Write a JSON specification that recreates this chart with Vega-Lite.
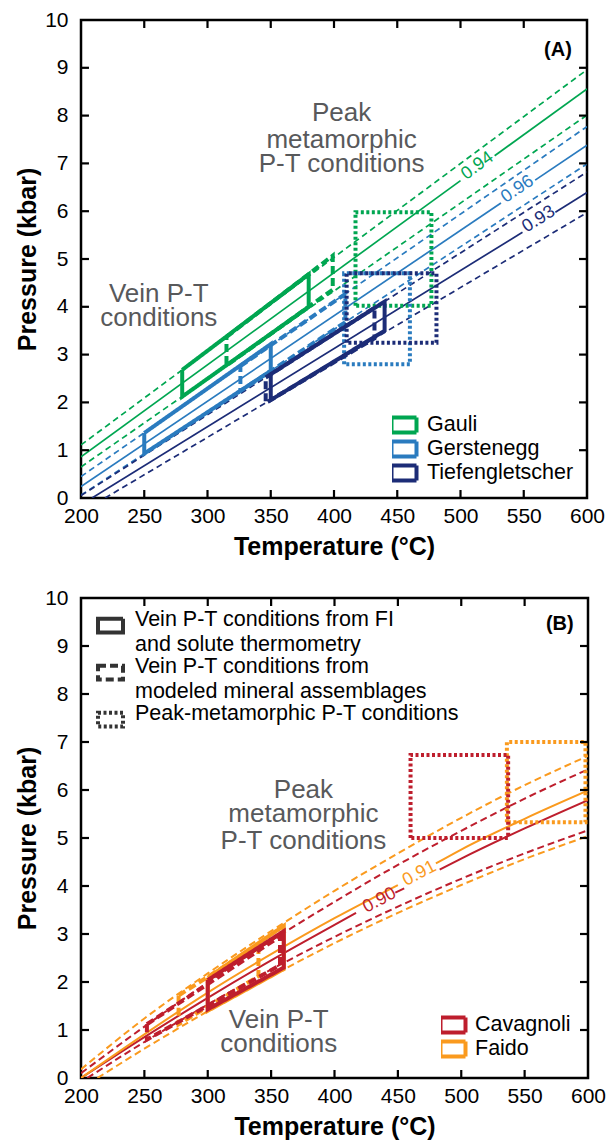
{
 "$schema": "https://vega.github.io/schema/vega-lite/v6.json",
 "padding": {"left": 14, "top": 7, "right": 5, "bottom": 5},
 "spacing": 24,
 "config": {
  "font": "Liberation Sans",
  "view": {"stroke": "#000", "strokeWidth": 2.5},
  "axis": {"domainColor": "#000", "domainWidth": 2.5, "tickColor": "#000", "tickWidth": 2, "tickSize": 8, "labelFontSize": 21, "labelColor": "#000", "titleFontSize": 25, "titleFontWeight": "bold", "titleColor": "#000", "grid": false, "labelFlush": false, "labelOverlap": false},
  "legend": {"labelFontSize": 21.5, "labelColor": "#000", "labelLimit": 500, "symbolStrokeWidth": 4, "title": null},
  "style": {"guide-label": {"lineHeight": 25}}
 },
 "datasets": {
  "frameTicks": [
   {"id": "b250", "T": 250, "P": 0}, {"id": "b250", "T": 250, "P": 0.167},
   {"id": "b300", "T": 300, "P": 0}, {"id": "b300", "T": 300, "P": 0.167},
   {"id": "b350", "T": 350, "P": 0}, {"id": "b350", "T": 350, "P": 0.167},
   {"id": "b400", "T": 400, "P": 0}, {"id": "b400", "T": 400, "P": 0.167},
   {"id": "b450", "T": 450, "P": 0}, {"id": "b450", "T": 450, "P": 0.167},
   {"id": "b500", "T": 500, "P": 0}, {"id": "b500", "T": 500, "P": 0.167},
   {"id": "b550", "T": 550, "P": 0}, {"id": "b550", "T": 550, "P": 0.167},
   {"id": "t250", "T": 250, "P": 10}, {"id": "t250", "T": 250, "P": 9.833},
   {"id": "t300", "T": 300, "P": 10}, {"id": "t300", "T": 300, "P": 9.833},
   {"id": "t350", "T": 350, "P": 10}, {"id": "t350", "T": 350, "P": 9.833},
   {"id": "t400", "T": 400, "P": 10}, {"id": "t400", "T": 400, "P": 9.833},
   {"id": "t450", "T": 450, "P": 10}, {"id": "t450", "T": 450, "P": 9.833},
   {"id": "t500", "T": 500, "P": 10}, {"id": "t500", "T": 500, "P": 9.833},
   {"id": "t550", "T": 550, "P": 10}, {"id": "t550", "T": 550, "P": 9.833},
   {"id": "l1", "T": 200, "P": 1}, {"id": "l1", "T": 206.3, "P": 1},
   {"id": "l2", "T": 200, "P": 2}, {"id": "l2", "T": 206.3, "P": 2},
   {"id": "l3", "T": 200, "P": 3}, {"id": "l3", "T": 206.3, "P": 3},
   {"id": "l4", "T": 200, "P": 4}, {"id": "l4", "T": 206.3, "P": 4},
   {"id": "l5", "T": 200, "P": 5}, {"id": "l5", "T": 206.3, "P": 5},
   {"id": "l6", "T": 200, "P": 6}, {"id": "l6", "T": 206.3, "P": 6},
   {"id": "l7", "T": 200, "P": 7}, {"id": "l7", "T": 206.3, "P": 7},
   {"id": "l8", "T": 200, "P": 8}, {"id": "l8", "T": 206.3, "P": 8},
   {"id": "l9", "T": 200, "P": 9}, {"id": "l9", "T": 206.3, "P": 9},
   {"id": "r1", "T": 593.7, "P": 1}, {"id": "r1", "T": 600, "P": 1},
   {"id": "r2", "T": 593.7, "P": 2}, {"id": "r2", "T": 600, "P": 2},
   {"id": "r3", "T": 593.7, "P": 3}, {"id": "r3", "T": 600, "P": 3},
   {"id": "r4", "T": 593.7, "P": 4}, {"id": "r4", "T": 600, "P": 4},
   {"id": "r5", "T": 593.7, "P": 5}, {"id": "r5", "T": 600, "P": 5},
   {"id": "r6", "T": 593.7, "P": 6}, {"id": "r6", "T": 600, "P": 6},
   {"id": "r7", "T": 593.7, "P": 7}, {"id": "r7", "T": 600, "P": 7},
   {"id": "r8", "T": 593.7, "P": 8}, {"id": "r8", "T": 600, "P": 8},
   {"id": "r9", "T": 593.7, "P": 9}, {"id": "r9", "T": 600, "P": 9}
  ],
  "isoA": [
   {"site": "Gauli", "kind": "best", "line": "Ga-best-a", "T": 200, "P": 0.86},
   {"site": "Gauli", "kind": "best", "line": "Ga-best-a", "T": 500, "P": 6.64},
   {"site": "Gauli", "kind": "best", "line": "Ga-best-b", "T": 527, "P": 7.16},
   {"site": "Gauli", "kind": "best", "line": "Ga-best-b", "T": 600, "P": 8.56},
   {"site": "Gauli", "kind": "bound", "line": "Ga-up", "T": 200, "P": 1.11},
   {"site": "Gauli", "kind": "bound", "line": "Ga-up", "T": 600, "P": 8.96},
   {"site": "Gauli", "kind": "bound", "line": "Ga-lo", "T": 200, "P": 0.65},
   {"site": "Gauli", "kind": "bound", "line": "Ga-lo", "T": 600, "P": 8.01},
   {"site": "Gerstenegg", "kind": "best", "line": "Ge-best-a", "T": 200, "P": 0.24},
   {"site": "Gerstenegg", "kind": "best", "line": "Ge-best-a", "T": 532, "P": 6.17},
   {"site": "Gerstenegg", "kind": "best", "line": "Ge-best-b", "T": 559, "P": 6.65},
   {"site": "Gerstenegg", "kind": "best", "line": "Ge-best-b", "T": 600, "P": 7.38},
   {"site": "Gerstenegg", "kind": "bound", "line": "Ge-up", "T": 200, "P": 0.45},
   {"site": "Gerstenegg", "kind": "bound", "line": "Ge-up", "T": 600, "P": 7.77},
   {"site": "Gerstenegg", "kind": "bound", "line": "Ge-lo", "T": 200, "P": 0.06},
   {"site": "Gerstenegg", "kind": "bound", "line": "Ge-lo", "T": 600, "P": 6.99},
   {"site": "Tiefengletscher", "kind": "best", "line": "Ti-best-a", "T": 208.7, "P": 0},
   {"site": "Tiefengletscher", "kind": "best", "line": "Ti-best-a", "T": 549, "P": 5.56},
   {"site": "Tiefengletscher", "kind": "best", "line": "Ti-best-b", "T": 575, "P": 5.98},
   {"site": "Tiefengletscher", "kind": "best", "line": "Ti-best-b", "T": 600, "P": 6.39},
   {"site": "Tiefengletscher", "kind": "bound", "line": "Ti-up", "T": 200, "P": 0.05},
   {"site": "Tiefengletscher", "kind": "bound", "line": "Ti-up", "T": 600, "P": 6.82},
   {"site": "Tiefengletscher", "kind": "bound", "line": "Ti-lo", "T": 219, "P": 0},
   {"site": "Tiefengletscher", "kind": "bound", "line": "Ti-lo", "T": 600, "P": 5.97}
  ],
  "boxA": [
   {"site": "Gauli", "type": "FI", "box": "Ga-FI", "i": 0, "T": 280, "P": 2.68},
   {"site": "Gauli", "type": "FI", "box": "Ga-FI", "i": 1, "T": 380, "P": 4.68},
   {"site": "Gauli", "type": "FI", "box": "Ga-FI", "i": 2, "T": 380, "P": 4.0},
   {"site": "Gauli", "type": "FI", "box": "Ga-FI", "i": 3, "T": 280, "P": 2.12},
   {"site": "Gauli", "type": "FI", "box": "Ga-FI", "i": 4, "T": 280, "P": 2.68},
   {"site": "Gauli", "type": "model", "box": "Ga-mod", "i": 0, "T": 315, "P": 3.37},
   {"site": "Gauli", "type": "model", "box": "Ga-mod", "i": 1, "T": 399, "P": 5.07},
   {"site": "Gauli", "type": "model", "box": "Ga-mod", "i": 2, "T": 399, "P": 4.36},
   {"site": "Gauli", "type": "model", "box": "Ga-mod", "i": 3, "T": 315, "P": 2.77},
   {"site": "Gauli", "type": "model", "box": "Ga-mod", "i": 4, "T": 315, "P": 3.37},
   {"site": "Gauli", "type": "peak", "box": "Ga-pk", "i": 0, "T": 417, "P": 4.02},
   {"site": "Gauli", "type": "peak", "box": "Ga-pk", "i": 1, "T": 417, "P": 5.98},
   {"site": "Gauli", "type": "peak", "box": "Ga-pk", "i": 2, "T": 477, "P": 5.98},
   {"site": "Gauli", "type": "peak", "box": "Ga-pk", "i": 3, "T": 477, "P": 4.02},
   {"site": "Gauli", "type": "peak", "box": "Ga-pk", "i": 4, "T": 417, "P": 4.02},
   {"site": "Gerstenegg", "type": "FI", "box": "Ge-FI", "i": 0, "T": 250, "P": 1.36},
   {"site": "Gerstenegg", "type": "FI", "box": "Ge-FI", "i": 1, "T": 350, "P": 3.22},
   {"site": "Gerstenegg", "type": "FI", "box": "Ge-FI", "i": 2, "T": 350, "P": 2.66},
   {"site": "Gerstenegg", "type": "FI", "box": "Ge-FI", "i": 3, "T": 250, "P": 0.93},
   {"site": "Gerstenegg", "type": "FI", "box": "Ge-FI", "i": 4, "T": 250, "P": 1.36},
   {"site": "Gerstenegg", "type": "model", "box": "Ge-mod", "i": 0, "T": 326, "P": 2.76},
   {"site": "Gerstenegg", "type": "model", "box": "Ge-mod", "i": 1, "T": 409, "P": 4.27},
   {"site": "Gerstenegg", "type": "model", "box": "Ge-mod", "i": 2, "T": 409, "P": 3.68},
   {"site": "Gerstenegg", "type": "model", "box": "Ge-mod", "i": 3, "T": 326, "P": 2.24},
   {"site": "Gerstenegg", "type": "model", "box": "Ge-mod", "i": 4, "T": 326, "P": 2.76},
   {"site": "Gerstenegg", "type": "peak", "box": "Ge-pk", "i": 0, "T": 408, "P": 2.8},
   {"site": "Gerstenegg", "type": "peak", "box": "Ge-pk", "i": 1, "T": 408, "P": 4.7},
   {"site": "Gerstenegg", "type": "peak", "box": "Ge-pk", "i": 2, "T": 460, "P": 4.7},
   {"site": "Gerstenegg", "type": "peak", "box": "Ge-pk", "i": 3, "T": 460, "P": 2.8},
   {"site": "Gerstenegg", "type": "peak", "box": "Ge-pk", "i": 4, "T": 408, "P": 2.8},
   {"site": "Tiefengletscher", "type": "FI", "box": "Ti-FI", "i": 0, "T": 350, "P": 2.59},
   {"site": "Tiefengletscher", "type": "FI", "box": "Ti-FI", "i": 1, "T": 440, "P": 4.11},
   {"site": "Tiefengletscher", "type": "FI", "box": "Ti-FI", "i": 2, "T": 440, "P": 3.5},
   {"site": "Tiefengletscher", "type": "FI", "box": "Ti-FI", "i": 3, "T": 350, "P": 2.05},
   {"site": "Tiefengletscher", "type": "FI", "box": "Ti-FI", "i": 4, "T": 350, "P": 2.59},
   {"site": "Tiefengletscher", "type": "model", "box": "Ti-mod", "i": 0, "T": 346, "P": 2.52},
   {"site": "Tiefengletscher", "type": "model", "box": "Ti-mod", "i": 1, "T": 432, "P": 3.98},
   {"site": "Tiefengletscher", "type": "model", "box": "Ti-mod", "i": 2, "T": 432, "P": 3.34},
   {"site": "Tiefengletscher", "type": "model", "box": "Ti-mod", "i": 3, "T": 346, "P": 1.99},
   {"site": "Tiefengletscher", "type": "model", "box": "Ti-mod", "i": 4, "T": 346, "P": 2.52},
   {"site": "Tiefengletscher", "type": "peak", "box": "Ti-pk", "i": 0, "T": 410, "P": 3.25},
   {"site": "Tiefengletscher", "type": "peak", "box": "Ti-pk", "i": 1, "T": 410, "P": 4.7},
   {"site": "Tiefengletscher", "type": "peak", "box": "Ti-pk", "i": 2, "T": 481, "P": 4.7},
   {"site": "Tiefengletscher", "type": "peak", "box": "Ti-pk", "i": 3, "T": 481, "P": 3.25},
   {"site": "Tiefengletscher", "type": "peak", "box": "Ti-pk", "i": 4, "T": 410, "P": 3.25}
  ],
  "txtA": [
   {"text": "Peak", "T": 406, "P": 8.06},
   {"text": "metamorphic", "T": 406, "P": 7.5},
   {"text": "P-T conditions", "T": 406, "P": 6.98},
   {"text": "Vein P-T", "T": 261.5, "P": 4.26},
   {"text": "conditions", "T": 261.5, "P": 3.77},
   {"text": "0.94", "T": 513.4, "P": 6.95},
   {"text": "0.96", "T": 545, "P": 6.46},
   {"text": "0.93", "T": 561.8, "P": 5.83},
   {"text": "(A)", "T": 588, "P": 9.37}
  ],
  "isoB": [
   {"site": "Cavagnoli", "kind": "best", "line": "Ca-best-a", "T": 200, "P": 0},
   {"site": "Cavagnoli", "kind": "best", "line": "Ca-best-a", "T": 250, "P": 0.85},
   {"site": "Cavagnoli", "kind": "best", "line": "Ca-best-a", "T": 300, "P": 1.67},
   {"site": "Cavagnoli", "kind": "best", "line": "Ca-best-a", "T": 350, "P": 2.45},
   {"site": "Cavagnoli", "kind": "best", "line": "Ca-best-a", "T": 400, "P": 3.19},
   {"site": "Cavagnoli", "kind": "best", "line": "Ca-best-a", "T": 417, "P": 3.44},
   {"site": "Cavagnoli", "kind": "best", "line": "Ca-best-c", "T": 448, "P": 3.86},
   {"site": "Cavagnoli", "kind": "best", "line": "Ca-best-c", "T": 455, "P": 3.95},
   {"site": "Cavagnoli", "kind": "best", "line": "Ca-best-b", "T": 483, "P": 4.34},
   {"site": "Cavagnoli", "kind": "best", "line": "Ca-best-b", "T": 500, "P": 4.57},
   {"site": "Cavagnoli", "kind": "best", "line": "Ca-best-b", "T": 550, "P": 5.2},
   {"site": "Cavagnoli", "kind": "best", "line": "Ca-best-b", "T": 600, "P": 5.79},
   {"site": "Faido", "kind": "best", "line": "Fa-best-a", "T": 200, "P": 0},
   {"site": "Faido", "kind": "best", "line": "Fa-best-a", "T": 250, "P": 0.91},
   {"site": "Faido", "kind": "best", "line": "Fa-best-a", "T": 300, "P": 1.78},
   {"site": "Faido", "kind": "best", "line": "Fa-best-a", "T": 350, "P": 2.58},
   {"site": "Faido", "kind": "best", "line": "Fa-best-a", "T": 400, "P": 3.33},
   {"site": "Faido", "kind": "best", "line": "Fa-best-a", "T": 450, "P": 4.02},
   {"site": "Faido", "kind": "best", "line": "Fa-best-b", "T": 480, "P": 4.47},
   {"site": "Faido", "kind": "best", "line": "Fa-best-b", "T": 500, "P": 4.76},
   {"site": "Faido", "kind": "best", "line": "Fa-best-b", "T": 550, "P": 5.4},
   {"site": "Faido", "kind": "best", "line": "Fa-best-b", "T": 600, "P": 5.99},
   {"site": "Cavagnoli", "kind": "bound", "line": "Ca-up", "T": 200, "P": 0.1},
   {"site": "Cavagnoli", "kind": "bound", "line": "Ca-up", "T": 250, "P": 1.07},
   {"site": "Cavagnoli", "kind": "bound", "line": "Ca-up", "T": 300, "P": 1.99},
   {"site": "Cavagnoli", "kind": "bound", "line": "Ca-up", "T": 350, "P": 2.86},
   {"site": "Cavagnoli", "kind": "bound", "line": "Ca-up", "T": 400, "P": 3.67},
   {"site": "Cavagnoli", "kind": "bound", "line": "Ca-up", "T": 450, "P": 4.44},
   {"site": "Cavagnoli", "kind": "bound", "line": "Ca-up", "T": 500, "P": 5.15},
   {"site": "Cavagnoli", "kind": "bound", "line": "Ca-up", "T": 550, "P": 5.82},
   {"site": "Cavagnoli", "kind": "bound", "line": "Ca-up", "T": 600, "P": 6.43},
   {"site": "Cavagnoli", "kind": "bound", "line": "Ca-lo", "T": 205, "P": 0},
   {"site": "Cavagnoli", "kind": "bound", "line": "Ca-lo", "T": 250, "P": 0.75},
   {"site": "Cavagnoli", "kind": "bound", "line": "Ca-lo", "T": 300, "P": 1.53},
   {"site": "Cavagnoli", "kind": "bound", "line": "Ca-lo", "T": 350, "P": 2.26},
   {"site": "Cavagnoli", "kind": "bound", "line": "Ca-lo", "T": 400, "P": 2.94},
   {"site": "Cavagnoli", "kind": "bound", "line": "Ca-lo", "T": 450, "P": 3.57},
   {"site": "Cavagnoli", "kind": "bound", "line": "Ca-lo", "T": 500, "P": 4.15},
   {"site": "Cavagnoli", "kind": "bound", "line": "Ca-lo", "T": 550, "P": 4.68},
   {"site": "Cavagnoli", "kind": "bound", "line": "Ca-lo", "T": 600, "P": 5.16},
   {"site": "Faido", "kind": "bound", "line": "Fa-up", "T": 200, "P": 0.18},
   {"site": "Faido", "kind": "bound", "line": "Fa-up", "T": 250, "P": 1.24},
   {"site": "Faido", "kind": "bound", "line": "Fa-up", "T": 300, "P": 2.18},
   {"site": "Faido", "kind": "bound", "line": "Fa-up", "T": 350, "P": 3.06},
   {"site": "Faido", "kind": "bound", "line": "Fa-up", "T": 400, "P": 3.9},
   {"site": "Faido", "kind": "bound", "line": "Fa-up", "T": 450, "P": 4.68},
   {"site": "Faido", "kind": "bound", "line": "Fa-up", "T": 500, "P": 5.42},
   {"site": "Faido", "kind": "bound", "line": "Fa-up", "T": 550, "P": 6.1},
   {"site": "Faido", "kind": "bound", "line": "Fa-up", "T": 600, "P": 6.71},
   {"site": "Faido", "kind": "bound", "line": "Fa-lo", "T": 213, "P": 0},
   {"site": "Faido", "kind": "bound", "line": "Fa-lo", "T": 250, "P": 0.61},
   {"site": "Faido", "kind": "bound", "line": "Fa-lo", "T": 300, "P": 1.39},
   {"site": "Faido", "kind": "bound", "line": "Fa-lo", "T": 350, "P": 2.12},
   {"site": "Faido", "kind": "bound", "line": "Fa-lo", "T": 400, "P": 2.81},
   {"site": "Faido", "kind": "bound", "line": "Fa-lo", "T": 450, "P": 3.44},
   {"site": "Faido", "kind": "bound", "line": "Fa-lo", "T": 500, "P": 4.02},
   {"site": "Faido", "kind": "bound", "line": "Fa-lo", "T": 550, "P": 4.56},
   {"site": "Faido", "kind": "bound", "line": "Fa-lo", "T": 600, "P": 5.04}
  ],
  "boxB": [
   {"site": "Faido", "type": "FI", "box": "Fa-FI", "i": 0, "T": 300, "P": 2.09},
   {"site": "Faido", "type": "FI", "box": "Fa-FI", "i": 1, "T": 360, "P": 3.17},
   {"site": "Faido", "type": "FI", "box": "Fa-FI", "i": 2, "T": 360, "P": 2.27},
   {"site": "Faido", "type": "FI", "box": "Fa-FI", "i": 3, "T": 300, "P": 1.4},
   {"site": "Faido", "type": "FI", "box": "Fa-FI", "i": 4, "T": 300, "P": 2.09},
   {"site": "Faido", "type": "model", "box": "Fa-mod", "i": 0, "T": 277, "P": 1.72},
   {"site": "Faido", "type": "model", "box": "Fa-mod", "i": 1, "T": 340, "P": 2.78},
   {"site": "Faido", "type": "model", "box": "Fa-mod", "i": 2, "T": 340, "P": 2.12},
   {"site": "Faido", "type": "model", "box": "Fa-mod", "i": 3, "T": 277, "P": 1.12},
   {"site": "Faido", "type": "model", "box": "Fa-mod", "i": 4, "T": 277, "P": 1.72},
   {"site": "Faido", "type": "peak", "box": "Fa-pk", "i": 0, "T": 536, "P": 5.33},
   {"site": "Faido", "type": "peak", "box": "Fa-pk", "i": 1, "T": 536, "P": 7.0},
   {"site": "Faido", "type": "peak", "box": "Fa-pk", "i": 2, "T": 598, "P": 7.0},
   {"site": "Faido", "type": "peak", "box": "Fa-pk", "i": 3, "T": 598, "P": 5.33},
   {"site": "Faido", "type": "peak", "box": "Fa-pk", "i": 4, "T": 536, "P": 5.33},
   {"site": "Cavagnoli", "type": "FI", "box": "Ca-FI", "i": 0, "T": 300, "P": 2.04},
   {"site": "Cavagnoli", "type": "FI", "box": "Ca-FI", "i": 1, "T": 360, "P": 3.06},
   {"site": "Cavagnoli", "type": "FI", "box": "Ca-FI", "i": 2, "T": 360, "P": 2.3},
   {"site": "Cavagnoli", "type": "FI", "box": "Ca-FI", "i": 3, "T": 300, "P": 1.43},
   {"site": "Cavagnoli", "type": "FI", "box": "Ca-FI", "i": 4, "T": 300, "P": 2.04},
   {"site": "Cavagnoli", "type": "model", "box": "Ca-mod", "i": 0, "T": 252, "P": 1.12},
   {"site": "Cavagnoli", "type": "model", "box": "Ca-mod", "i": 1, "T": 357, "P": 2.95},
   {"site": "Cavagnoli", "type": "model", "box": "Ca-mod", "i": 2, "T": 357, "P": 2.35},
   {"site": "Cavagnoli", "type": "model", "box": "Ca-mod", "i": 3, "T": 252, "P": 0.8},
   {"site": "Cavagnoli", "type": "model", "box": "Ca-mod", "i": 4, "T": 252, "P": 1.12},
   {"site": "Cavagnoli", "type": "peak", "box": "Ca-pk", "i": 0, "T": 460, "P": 5.0},
   {"site": "Cavagnoli", "type": "peak", "box": "Ca-pk", "i": 1, "T": 460, "P": 6.73},
   {"site": "Cavagnoli", "type": "peak", "box": "Ca-pk", "i": 2, "T": 537, "P": 6.73},
   {"site": "Cavagnoli", "type": "peak", "box": "Ca-pk", "i": 3, "T": 537, "P": 5.0},
   {"site": "Cavagnoli", "type": "peak", "box": "Ca-pk", "i": 4, "T": 460, "P": 5.0}
  ],
  "txtB": [
   {"text": "Peak", "T": 375.5, "P": 6.0},
   {"text": "metamorphic", "T": 375.5, "P": 5.5},
   {"text": "P-T conditions", "T": 375.5, "P": 4.94},
   {"text": "Vein P-T", "T": 356, "P": 1.2},
   {"text": "conditions", "T": 356, "P": 0.71},
   {"text": "0.90", "T": 435.6, "P": 3.7},
   {"text": "0.91", "T": 467, "P": 4.26},
   {"text": "(B)", "T": 588.7, "P": 9.45}
  ]
 },
 "vconcat": [
  {
   "width": 506, "height": 478,
   "encoding": {
    "x": {"field": "T", "type": "quantitative", "scale": {"domain": [200, 600], "nice": false, "zero": false}, "axis": null},
    "y": {"field": "P", "type": "quantitative", "scale": {"domain": [0, 10], "nice": false}, "axis": null}
   },
   "layer": [
    {
     "data": {"name": "isoA"},
     "transform": [{"filter": "datum.kind == 'best'"}],
     "mark": {"type": "line", "strokeWidth": 1.7, "clip": true},
     "encoding": {
      "x": {"field": "T", "type": "quantitative", "scale": {"domain": [200, 600], "nice": false, "zero": false}, "axis": {"orient": "bottom", "values": [200, 250, 300, 350, 400, 450, 500, 550, 600], "title": "Temperature (°C)", "domain": false, "ticks": false, "tickSize": 0, "labelPadding": 7, "titlePadding": 8}},
      "y": {"field": "P", "type": "quantitative", "scale": {"domain": [0, 10], "nice": false}, "axis": {"orient": "left", "values": [0, 1, 2, 3, 4, 5, 6, 7, 8, 9, 10], "title": "Pressure (kbar)", "domain": false, "ticks": false, "tickSize": 0, "labelPadding": 13, "titlePadding": 4}},
      "color": {"field": "site", "type": "nominal", "scale": {"domain": ["Gauli", "Gerstenegg", "Tiefengletscher"], "range": ["#00a651", "#2a7bbf", "#1c2c77"]},
       "legend": {"orient": "bottom-right", "offset": 13, "symbolType": "M-1.25,-0.75H1.25V0.75H-1.25Z", "symbolSize": 400, "symbolStrokeWidth": 4, "symbolFillColor": "white", "symbolDash": [1, 0], "labelOffset": 11, "rowPadding": 0, "clipHeight": 24}},
      "detail": {"field": "line"}
     }
    },
    {
     "data": {"name": "isoA"},
     "transform": [{"filter": "datum.kind == 'bound'"}],
     "mark": {"type": "line", "strokeWidth": 1.7, "strokeDash": [6, 4], "clip": true},
     "encoding": {
      "color": {"field": "site", "type": "nominal", "scale": {"domain": ["Gauli", "Gerstenegg", "Tiefengletscher"], "range": ["#00a651", "#2a7bbf", "#1c2c77"]},
       "legend": {"orient": "bottom-right", "offset": 13, "symbolType": "M-1.25,-0.75H1.25V0.75H-1.25Z", "symbolSize": 400, "symbolStrokeWidth": 4, "symbolFillColor": "white", "symbolDash": [1, 0], "labelOffset": 11, "rowPadding": 0, "clipHeight": 24}},
      "detail": {"field": "line"}
     }
    },
    {
     "data": {"name": "boxA"},
     "mark": {"type": "line", "strokeWidth": 4, "strokeJoin": "miter", "clip": true},
     "encoding": {
      "color": {"field": "site", "type": "nominal", "scale": {"domain": ["Gauli", "Gerstenegg", "Tiefengletscher"], "range": ["#00a651", "#2a7bbf", "#1c2c77"]},
       "legend": {"orient": "bottom-right", "offset": 13, "symbolType": "M-1.25,-0.75H1.25V0.75H-1.25Z", "symbolSize": 400, "symbolStrokeWidth": 4, "symbolFillColor": "white", "symbolDash": [1, 0], "labelOffset": 11, "rowPadding": 0, "clipHeight": 24}},
      "strokeDash": {"field": "type", "type": "nominal", "scale": {"domain": ["FI", "model", "peak"], "range": [[1, 0], [8, 4], [3, 2.5]]}, "legend": null},
      "detail": {"field": "box"},
      "order": {"field": "i", "type": "quantitative"}
     }
    },
    {
     "data": {"name": "frameTicks"},
     "mark": {"type": "line", "strokeWidth": 2.2, "color": "#000"},
     "encoding": {"detail": {"field": "id"}}
    },
    {
     "data": {"name": "txtA"},
     "transform": [{"filter": "indexof(['0.94','0.96','0.93','(A)'], datum.text) < 0"}],
     "mark": {"type": "text", "fontSize": 26, "color": "#58595b", "align": "center", "baseline": "middle"},
     "encoding": {"text": {"field": "text"}}
    },
    {
     "data": {"name": "txtA"},
     "transform": [{"filter": "datum.text == '0.94'"}],
     "mark": {"type": "text", "fontSize": 18, "color": "#00a651", "align": "center", "baseline": "middle", "angle": 324},
     "encoding": {"text": {"field": "text"}}
    },
    {
     "data": {"name": "txtA"},
     "transform": [{"filter": "datum.text == '0.96'"}],
     "mark": {"type": "text", "fontSize": 18, "color": "#2a7bbf", "align": "center", "baseline": "middle", "angle": 326},
     "encoding": {"text": {"field": "text"}}
    },
    {
     "data": {"name": "txtA"},
     "transform": [{"filter": "datum.text == '0.93'"}],
     "mark": {"type": "text", "fontSize": 18, "color": "#1c2c77", "align": "center", "baseline": "middle", "angle": 328},
     "encoding": {"text": {"field": "text"}}
    },
    {
     "data": {"name": "txtA"},
     "transform": [{"filter": "datum.text == '(A)'"}],
     "mark": {"type": "text", "fontSize": 20, "fontWeight": "bold", "color": "#000", "align": "right", "baseline": "middle"},
     "encoding": {"text": {"field": "text"}}
    }
   ],
   "resolve": {"axis": {"x": "independent", "y": "independent"}}
  },
  {
   "width": 507, "height": 480,
   "encoding": {
    "x": {"field": "T", "type": "quantitative", "scale": {"domain": [200, 600], "nice": false, "zero": false}, "axis": null},
    "y": {"field": "P", "type": "quantitative", "scale": {"domain": [0, 10], "nice": false}, "axis": null}
   },
   "layer": [
    {
     "data": {"name": "isoB"},
     "transform": [{"filter": "datum.kind == 'best'"}],
     "mark": {"type": "line", "strokeWidth": 2, "interpolate": "monotone", "clip": true},
     "encoding": {
      "x": {"field": "T", "type": "quantitative", "scale": {"domain": [200, 600], "nice": false, "zero": false}, "axis": {"orient": "bottom", "values": [200, 250, 300, 350, 400, 450, 500, 550, 600], "title": "Temperature (°C)", "domain": false, "ticks": false, "tickSize": 0, "labelPadding": 7, "titlePadding": 8}},
      "y": {"field": "P", "type": "quantitative", "scale": {"domain": [0, 10], "nice": false}, "axis": {"orient": "left", "values": [0, 1, 2, 3, 4, 5, 6, 7, 8, 9, 10], "title": "Pressure (kbar)", "domain": false, "ticks": false, "tickSize": 0, "labelPadding": 13, "titlePadding": 4}},
      "color": {"field": "site", "type": "nominal", "scale": {"domain": ["Cavagnoli", "Faido"], "range": ["#be1e2d", "#fa9a1e"]},
       "legend": {"orient": "bottom-right", "offset": 17, "symbolType": "M-1.25,-0.75H1.25V0.75H-1.25Z", "symbolSize": 400, "symbolStrokeWidth": 4, "symbolFillColor": "white", "symbolDash": [1, 0], "labelOffset": 10, "rowPadding": 0, "clipHeight": 24}},
      "detail": {"field": "line"}
     }
    },
    {
     "data": {"name": "isoB"},
     "transform": [{"filter": "datum.kind == 'bound'"}],
     "mark": {"type": "line", "strokeWidth": 2, "strokeDash": [7, 4], "interpolate": "monotone", "clip": true},
     "encoding": {
      "color": {"field": "site", "type": "nominal", "scale": {"domain": ["Cavagnoli", "Faido"], "range": ["#be1e2d", "#fa9a1e"]},
       "legend": {"orient": "bottom-right", "offset": 17, "symbolType": "M-1.25,-0.75H1.25V0.75H-1.25Z", "symbolSize": 400, "symbolStrokeWidth": 4, "symbolFillColor": "white", "symbolDash": [1, 0], "labelOffset": 10, "rowPadding": 0, "clipHeight": 24}},
      "detail": {"field": "line"}
     }
    },
    {
     "data": {"name": "boxB"},
     "mark": {"type": "line", "strokeWidth": 4, "strokeJoin": "miter", "clip": true},
     "encoding": {
      "color": {"field": "site", "type": "nominal", "scale": {"domain": ["Cavagnoli", "Faido"], "range": ["#be1e2d", "#fa9a1e"]},
       "legend": {"orient": "bottom-right", "offset": 17, "symbolType": "M-1.25,-0.75H1.25V0.75H-1.25Z", "symbolSize": 400, "symbolStrokeWidth": 4, "symbolFillColor": "white", "symbolDash": [1, 0], "labelOffset": 10, "rowPadding": 0, "clipHeight": 24}},
      "strokeDash": {"field": "type", "type": "nominal", "scale": {"domain": ["FI", "model", "peak"], "range": [[1, 0], [8, 4], [3, 2.5]]},
       "legend": {"orient": "none", "legendX": 15, "legendY": 13, "symbolType": "M-1,-0.55H1V0.55H-1Z", "symbolSize": 625, "symbolStrokeWidth": 4, "symbolStrokeColor": "#333333", "symbolFillColor": "white", "labelOffset": 10, "rowPadding": 0, "labelBaseline": "alphabetic",
        "labelExpr": "datum.value == 'FI' ? ['Vein P-T conditions from FI', 'and solute thermometry'] : datum.value == 'model' ? ['Vein P-T conditions from', 'modeled mineral assemblages'] : 'Peak-metamorphic P-T conditions'"}},
      "detail": {"field": "box"},
      "order": {"field": "i", "type": "quantitative"}
     }
    },
    {
     "data": {"name": "frameTicks"},
     "mark": {"type": "line", "strokeWidth": 2.2, "color": "#000"},
     "encoding": {"detail": {"field": "id"}}
    },
    {
     "data": {"name": "txtB"},
     "transform": [{"filter": "indexof(['0.90','0.91','(B)'], datum.text) < 0"}],
     "mark": {"type": "text", "fontSize": 26, "color": "#58595b", "align": "center", "baseline": "middle"},
     "encoding": {"text": {"field": "text"}}
    },
    {
     "data": {"name": "txtB"},
     "transform": [{"filter": "datum.text == '0.90'"}],
     "mark": {"type": "text", "fontSize": 18, "color": "#be1e2d", "align": "center", "baseline": "middle", "angle": 332},
     "encoding": {"text": {"field": "text"}}
    },
    {
     "data": {"name": "txtB"},
     "transform": [{"filter": "datum.text == '0.91'"}],
     "mark": {"type": "text", "fontSize": 18, "color": "#fa9a1e", "align": "center", "baseline": "middle", "angle": 332},
     "encoding": {"text": {"field": "text"}}
    },
    {
     "data": {"name": "txtB"},
     "transform": [{"filter": "datum.text == '(B)'"}],
     "mark": {"type": "text", "fontSize": 20, "fontWeight": "bold", "color": "#000", "align": "right", "baseline": "middle"},
     "encoding": {"text": {"field": "text"}}
    }
   ],
   "resolve": {"axis": {"x": "independent", "y": "independent"}}
  }
 ],
 "resolve": {"scale": {"color": "independent", "strokeDash": "independent"}, "legend": {"color": "independent", "strokeDash": "independent"}}
}
